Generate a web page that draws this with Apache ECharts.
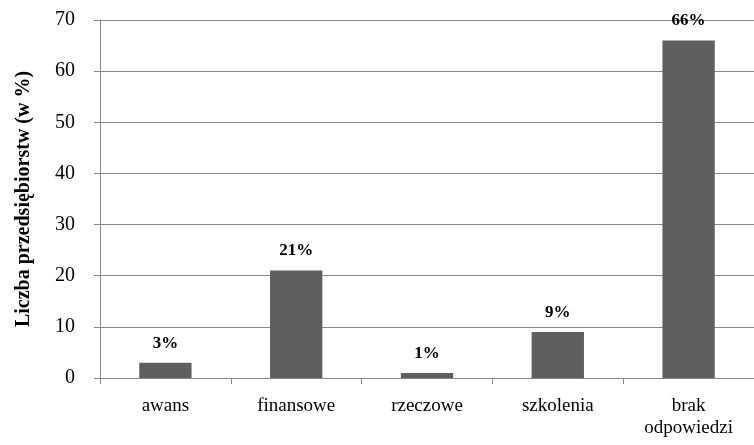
<!DOCTYPE html>
<html>
<head>
<meta charset="utf-8">
<script src="https://cdn.jsdelivr.net/npm/echarts@6/dist/echarts.min.js"></script>
<style>
  html, body { margin: 0; padding: 0; background: #ffffff; }
  #chart { width: 754px; height: 445px; }
</style>
</head>
<body>
<div id="chart"></div>
<script>
// Forms of employee motivation and share of companies using them
var categories = ['awans', 'finansowe', 'rzeczowe', 'szkolenia', 'brak\nodpowiedzi'];
var shares = [3, 21, 1, 9, 66];
var yTicks = { min: 0, max: 70, interval: 10 };
var yTitle = 'Liczba przedsiębiorstw (w %)';

var serif = "'Times New Roman', 'Liberation Serif', serif";
var gridGray = '#888888';

var chart = echarts.init(document.getElementById('chart'), null, { renderer: 'canvas' });
chart.setOption({
  animation: false,
  backgroundColor: '#ffffff',
  grid: { left: 100, top: 20, width: 663, bottom: 67, containLabel: false },
  xAxis: {
    type: 'category',
    data: categories,
    boundaryGap: true,
    axisLine: { show: true, lineStyle: { color: gridGray, width: 1 } },
    axisTick: { show: true, length: 6, lineStyle: { color: gridGray } },
    axisLabel: {
      margin: 17,
      color: '#000000',
      fontFamily: serif,
      fontSize: 19,
      lineHeight: 22,
      interval: 0
    }
  },
  yAxis: {
    type: 'value',
    min: yTicks.min,
    max: yTicks.max,
    interval: yTicks.interval,
    name: yTitle,
    nameLocation: 'middle',
    nameRotate: 90,
    nameGap: 66,
    nameMoveOverlap: false,
    nameTextStyle: {
      color: '#000000',
      fontFamily: serif,
      fontSize: 20,
      fontWeight: 'bold'
    },
    axisLine: { show: true, lineStyle: { color: gridGray, width: 1 } },
    axisTick: { show: true, length: 6, lineStyle: { color: gridGray } },
    splitLine: { show: true, lineStyle: { color: gridGray, width: 1 } },
    axisLabel: {
      margin: 25,
      color: '#000000',
      fontFamily: serif,
      fontSize: 20
    }
  },
  series: [{
    type: 'bar',
    data: shares,
    barWidth: '40%',
    itemStyle: { color: '#5f5f5f' },
    label: {
      show: true,
      position: 'top',
      distance: 11,
      color: '#000000',
      fontFamily: serif,
      fontSize: 17,
      fontWeight: 'bold',
      formatter: function (p) { return p.value + '%'; }
    }
  }]
});
</script>
</body>
</html>
